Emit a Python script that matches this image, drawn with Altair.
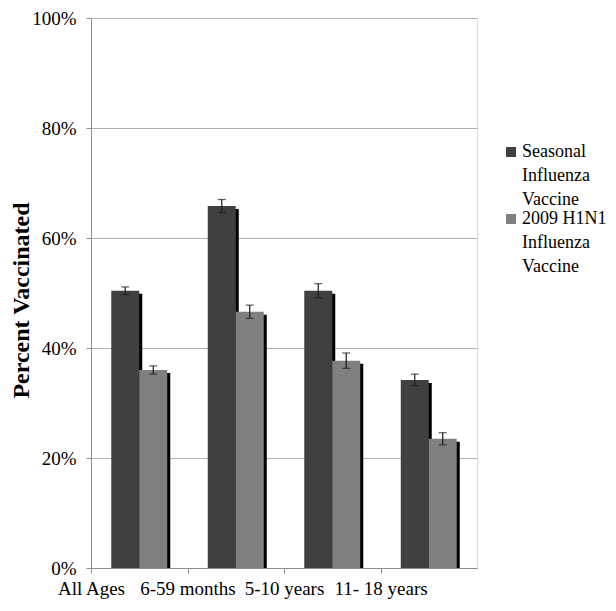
import altair as alt
import pandas as pd

categories = ["All Ages", "6-59 months", "5-10 years", "11- 18 years"]
series = ["Seasonal Influenza Vaccine", "2009 H1N1 Influenza Vaccine"]
seasonal = [50.4, 65.8, 50.4, 34.2]
seasonal_err = [0.7, 1.2, 1.3, 1.05]
h1n1 = [36.0, 46.6, 37.7, 23.5]
h1n1_err = [0.75, 1.2, 1.4, 1.1]
colors = ["#404040", "#808080"]

rows = []
for i, c in enumerate(categories):
    for s, vals, errs in ((series[0], seasonal, seasonal_err), (series[1], h1n1, h1n1_err)):
        v = vals[i] / 100
        e = errs[i] / 100
        rows.append({"cat": c, "series": s, "value": v, "lo": v - e, "hi": v + e})
df = pd.DataFrame(rows)

FONT = "Liberation Serif"
W, H = 386, 550

x = alt.X(
    "cat:N",
    sort=categories,
    scale=alt.Scale(paddingInner=0.42, paddingOuter=0.21),
    axis=alt.Axis(
        title=None,
        labelAngle=0,
        labelFont=FONT,
        labelFontSize=19,
        labelColor="black",
        labelPadding=6,
        tickSize=5,
        tickColor="#8c8c8c",
        tickOffset=-48.25,
        domainColor="#8c8c8c",
        grid=False,
    ),
)
xo = alt.XOffset("series:N", sort=series, scale=alt.Scale(paddingInner=0, paddingOuter=0))
xo_shadow = alt.XOffset(
    "series:N", sort=series, scale=alt.Scale(paddingInner=0, paddingOuter=0, range=[3, 59])
)
y = alt.Y(
    "value:Q",
    scale=alt.Scale(domain=[0, 1], nice=False),
    axis=alt.Axis(
        title="Percent Vaccinated",
        titleFont=FONT,
        titleFontSize=24,
        titleFontWeight="bold",
        titleColor="black",
        titleBaseline="alphabetic",
        titleX=-63,
        titleY=282,
        format=".0%",
        values=[0, 0.2, 0.4, 0.6, 0.8, 1.0],
        labelFont=FONT,
        labelFontSize=19,
        labelColor="black",
        labelPadding=10,
        tickSize=5,
        tickColor="#8c8c8c",
        domainColor="#8c8c8c",
        gridColor="#b0b0b0",
        gridWidth=1,
    ),
)

base = alt.Chart(df)

shadow = base.mark_bar(color="black", yOffset=3).encode(
    x=x, xOffset=xo_shadow, y=y, y2=alt.datum(0)
)

bars = base.mark_bar().encode(
    x=x,
    xOffset=xo,
    y=y,
    color=alt.Color(
        "series:N",
        sort=series,
        scale=alt.Scale(domain=series, range=colors),
        legend=alt.Legend(
            title=None,
            orient="none",
            legendX=411,
            legendY=125,
            labelFont=FONT,
            labelFontSize=18,
            labelColor="black",
            labelBaseline="middle",
            labelOffset=2,
            labelLimit=200,
            labelExpr="datum.label == 'Seasonal Influenza Vaccine' ? ['Seasonal', 'Influenza', 'Vaccine'] : ['2009 H1N1', 'Influenza', 'Vaccine']",
            symbolType="square",
            symbolSize=100,
            symbolStrokeWidth=0,
            rowPadding=1,
        ),
    ),
)

err = base.mark_rule(color="#1a1a1a", strokeWidth=1.2).encode(
    x=x, xOffset=xo, y=alt.Y("lo:Q"), y2="hi:Q"
)
cap_lo = base.mark_tick(color="#1a1a1a", size=8, thickness=1.2).encode(x=x, xOffset=xo, y=alt.Y("lo:Q"))
cap_hi = base.mark_tick(color="#1a1a1a", size=8, thickness=1.2).encode(x=x, xOffset=xo, y=alt.Y("hi:Q"))

chart = (
    alt.layer(shadow, bars, err, cap_lo, cap_hi)
    .resolve_scale(xOffset="independent")
    .properties(
        width=W,
        height=H,
        autosize=alt.AutoSizeParams(type="none"),
        padding={"left": 83, "top": 10, "right": 131, "bottom": 34},
    )
    .configure_view(stroke=None)
    .configure(
        background="white",
        font=FONT,
        style={"guide-label": {"lineHeight": 24, "font": FONT}, "guide-title": {"font": FONT}},
    )
    .configure_axis(labelFont=FONT, titleFont=FONT)
    .configure_legend(labelFont=FONT)
)

chart.save("out.html", embed_options={"renderer": "svg", "actions": False})
